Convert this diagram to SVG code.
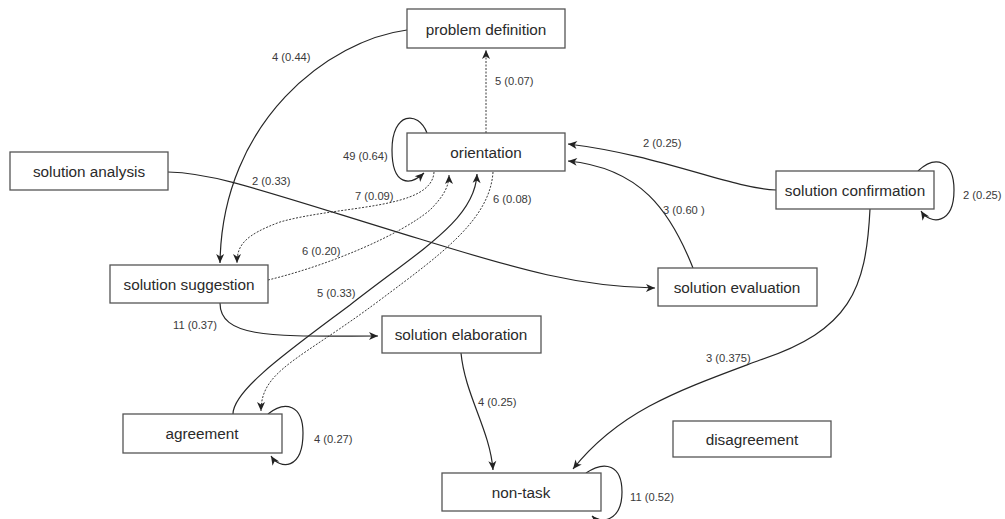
<svg xmlns="http://www.w3.org/2000/svg" width="1005" height="519" viewBox="0 0 1005 519">
<style>
.box{fill:#fff;stroke:#555;stroke-width:1.3}
.nt{font-family:"Liberation Sans",Arial,sans-serif;font-size:15.3px;fill:#2a2a2a;text-anchor:middle;dominant-baseline:central}
.el{font-family:"Liberation Sans",Arial,sans-serif;font-size:11.2px;fill:#3a3a3a}
.c{fill:none;stroke:#262626;stroke-width:1.2}
.d{fill:none;stroke:#3a3a3a;stroke-width:1;stroke-dasharray:2 1.5}
</style>
<defs>
<marker id="ah" markerUnits="userSpaceOnUse" markerWidth="10" markerHeight="9" refX="9" refY="4" orient="auto" overflow="visible">
<path d="M0,0 L9,4 L0,8 L2.5,4 Z" fill="#222"/>
</marker>
</defs>
<rect width="1005" height="519" fill="#fff"/>
<g id="connectors">
<path class="d" d="M486 133 L486 50" marker-end="url(#ah)"/>
<path class="c" d="M407 30 C330 40 222 120 220 263" marker-end="url(#ah)"/>
<path class="c" d="M168 172 C215 173 260 190 420 239 C520 270 580 287 655 288" marker-end="url(#ah)"/>
<path class="c" d="M427 133 C418 110 392 112 392 150 C392 186 410 186 424 173" marker-end="url(#ah)"/>
<path class="d" d="M434 172 C432 210 340 205 280 222 C245 235 237 245 237 263" marker-end="url(#ah)"/>
<path class="d" d="M268 280 C330 265 400 235 430 210 C445 195 449 185 449 175" marker-end="url(#ah)"/>
<path class="c" d="M233 414 C233 390 290 350 350 305 C420 250 475 220 477 174" marker-end="url(#ah)"/>
<path class="d" d="M493 172 C490 220 440 255 380 300 C300 360 261 370 261 411" marker-end="url(#ah)"/>
<path class="c" d="M220 303 C220 340 280 336 378 336" marker-end="url(#ah)"/>
<path class="c" d="M461 353 C465 395 490 430 493 470" marker-end="url(#ah)"/>
<path class="c" d="M776 190 C730 188 660 155 568 144" marker-end="url(#ah)"/>
<path class="c" d="M693 268 C670 210 640 168 568 161" marker-end="url(#ah)"/>
<path class="c" d="M918 171 C935 155 954 160 954 190 C954 225 930 225 921 211" marker-end="url(#ah)"/>
<path class="c" d="M870 209 C866 290 850 330 760 360 C680 390 620 410 573 469" marker-end="url(#ah)"/>
<path class="c" d="M268 414 C285 400 303 405 303 433 C303 470 280 470 271 456" marker-end="url(#ah)"/>
<path class="c" d="M586 473 C605 460 622 465 622 492 C622 522 600 524 592 516" marker-end="url(#ah)"/>
<text class="el" x="495" y="85">5 (0.07)</text>
<text class="el" x="272" y="61">4 (0.44)</text>
<text class="el" x="343" y="160">49 (0.64)</text>
<text class="el" x="252" y="185">2 (0.33)</text>
<text class="el" x="355" y="200">7 (0.09)</text>
<text class="el" x="493" y="203">6 (0.08)</text>
<text class="el" x="302" y="255">6 (0.20)</text>
<text class="el" x="317" y="297">5 (0.33)</text>
<text class="el" x="173" y="329">11 (0.37)</text>
<text class="el" x="478" y="406">4 (0.25)</text>
<text class="el" x="314" y="443">4 (0.27)</text>
<text class="el" x="643" y="147">2 (0.25)</text>
<text class="el" x="663" y="214">3 (0.60 )</text>
<text class="el" x="963" y="199">2 (0.25)</text>
<text class="el" x="706" y="362">3 (0.375)</text>
<text class="el" x="630" y="501">11 (0.52)</text>
</g>
<g id="problem-definition"><rect class="box" x="407" y="9" width="158" height="39"/><text class="nt" x="486" y="29">problem definition</text></g>
<g id="orientation"><rect class="box" x="407" y="133" width="158" height="38"/><text class="nt" x="486" y="152">orientation</text></g>
<g id="solution-analysis"><rect class="box" x="10" y="152" width="158" height="38"/><text class="nt" x="89" y="171">solution analysis</text></g>
<g id="solution-confirmation"><rect class="box" x="776" y="171" width="158" height="38"/><text class="nt" x="855" y="190">solution confirmation</text></g>
<g id="solution-suggestion"><rect class="box" x="110" y="265" width="158" height="38"/><text class="nt" x="189" y="284">solution suggestion</text></g>
<g id="solution-evaluation"><rect class="box" x="658" y="268" width="159" height="38"/><text class="nt" x="737" y="287">solution evaluation</text></g>
<g id="solution-elaboration"><rect class="box" x="382" y="316" width="159" height="37"/><text class="nt" x="461" y="334">solution elaboration</text></g>
<g id="agreement"><rect class="box" x="123" y="414" width="159" height="39"/><text class="nt" x="202" y="433">agreement</text></g>
<g id="disagreement"><rect class="box" x="673" y="421" width="158" height="36"/><text class="nt" x="752" y="439">disagreement</text></g>
<g id="non-task"><rect class="box" x="442" y="473" width="159" height="38"/><text class="nt" x="521" y="492">non-task</text></g>
</svg>
